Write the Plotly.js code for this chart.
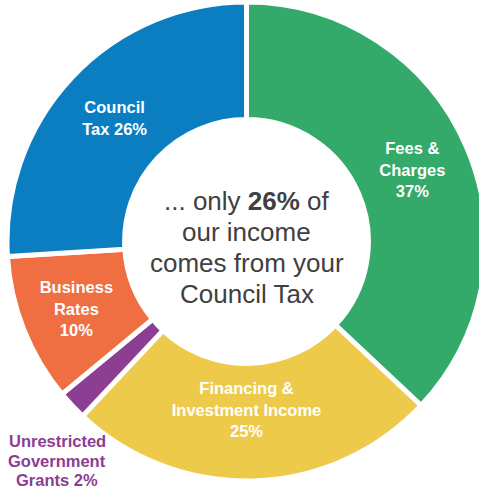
<!DOCTYPE html>
<html>
<head>
<meta charset="utf-8">
<script src="https://cdn.plot.ly/plotly-3.0.1.min.js"></script>
<style>
html,body{margin:0;padding:0;overflow:hidden;background:#fff;width:479px;height:492px;}
#chart{width:493px;height:492px;}
</style>
</head>
<body>
<div id="chart"></div>
<script>
// Data
var labels = ['Fees & Charges', 'Financing & Investment Income', 'Unrestricted Government Grants', 'Business Rates', 'Council Tax'];
var values = [37, 25, 2, 10, 26];
var displayLabels = ['Fees &<br>Charges<br>', 'Financing &<br>Investment Income<br>', 'Unrestricted<br>Government<br>Grants ', 'Business<br>Rates<br>', 'Council<br>Tax '];
var colors = ['#34AA6A', '#EECA4A', '#8B3E92', '#EF6E42', '#0B7EC2'];
var textPositions = ['inside', 'inside', 'none', 'inside', 'inside'];
var centerLines = ['... only <b>' + values[4] + '%</b> of', 'our income', 'comes from your', 'Council Tax'];
var outsideLines = ['Unrestricted', 'Government', 'Grants ' + values[2] + '%'];

var FONT = '"Liberation Sans", Arial, sans-serif';

var trace = {
  type: 'pie',
  labels: labels,
  values: values,
  text: displayLabels,
  texttemplate: '%{text}%{value}%',
  textposition: textPositions,
  insidetextorientation: 'horizontal',
  insidetextfont: {family: FONT, size: 16.5, color: '#ffffff', weight: 'bold'},
  hole: 0.509,
  sort: false,
  direction: 'clockwise',
  rotation: 0,
  marker: {colors: colors, line: {color: '#ffffff', width: 5}},
  hoverinfo: 'label+value',
  showlegend: false
};

var T = 2, B = 11, H = 492;
function py(p) { return 1 - (p - T) / (H - T - B); }
function px(x) { return x / 493; }

var annotations = [];
var centerY = [201, 232, 263, 294];
centerLines.forEach(function (line, i) {
  annotations.push({
    text: line, x: px(246.5), y: py(centerY[i]), xref: 'paper', yref: 'paper',
    xanchor: 'center', yanchor: 'middle', showarrow: false,
    font: {family: FONT, size: 26, color: '#404040'}
  });
});
// outside label for the small slice
var outsideY = [441, 461, 480];
outsideLines.forEach(function (line, i) {
  annotations.push({
    text: line, x: px(57), y: py(outsideY[i]), xref: 'paper', yref: 'paper',
    xanchor: 'center', yanchor: 'middle', showarrow: false,
    font: {family: FONT, size: 16.5, color: colors[2], weight: 'bold'}
  });
});

var layout = {
  width: 493, height: 492,
  margin: {l: 0, r: 0, t: T, b: B, pad: 0},
  paper_bgcolor: '#ffffff',
  plot_bgcolor: '#ffffff',
  showlegend: false,
  annotations: annotations
};

Plotly.newPlot('chart', [trace], layout, {displayModeBar: false, staticPlot: true});
</script>
</body>
</html>
